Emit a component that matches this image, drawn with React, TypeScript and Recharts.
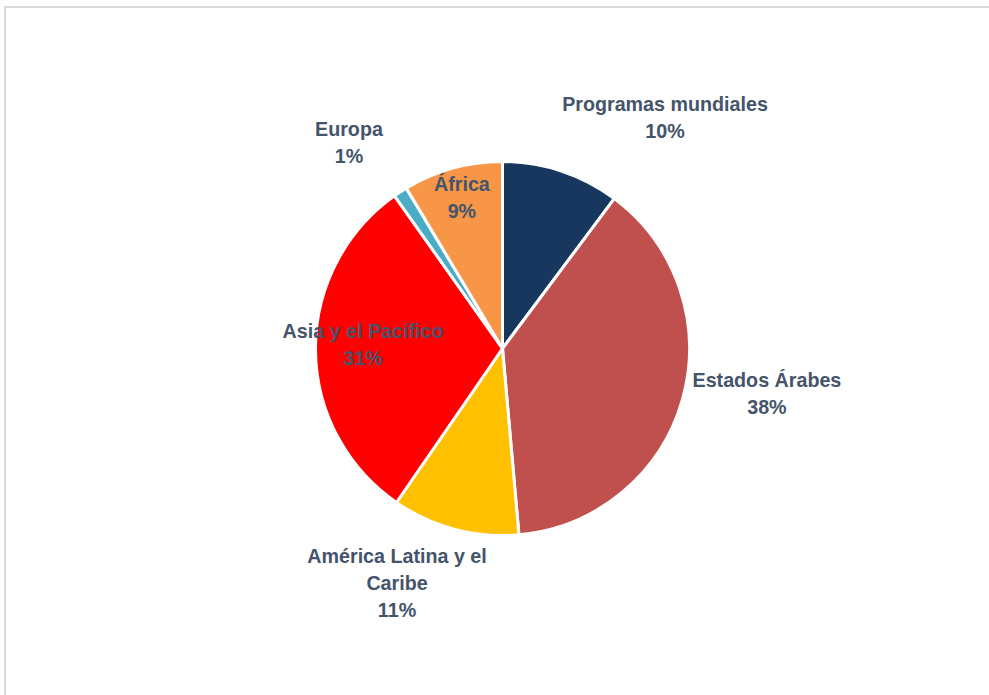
import { PieChart, Pie, Cell } from 'recharts';

// categories, clockwise from 12 o'clock
const regions = [
  'Programas mundiales',
  'Estados Árabes',
  'América Latina y el Caribe',
  'Asia y el Pacífico',
  'Europa',
  'África',
];

// share of total, in % (labels show them rounded)
const shares = [10.2, 38.4, 11.0, 30.6, 1.2, 8.6];

const colors = ['#17375E', '#C0504D', '#FFC000', '#FF0000', '#4BACC6', '#F79646'];

// where each label block sits, relative to the pie centre, in units of the radius
const labelSpots = [
  [0.869, -1.235],
  [1.414, 0.243],
  [-0.564, 1.254],
  [-0.746, -0.021],
  [-0.821, -1.102],
  [-0.217, -0.805],
];

const data = regions.map((name, i) => ({ name, value: shares[i] }));

const TEXT = '#44546A';
const LINE_GAP = 27;

function wrap(text: string, max = 20) {
  const words = text.split(' ');
  const lines: string[] = [];
  let cur = '';
  for (const w of words) {
    const next = cur ? cur + ' ' + w : w;
    if (next.length > max && cur) {
      lines.push(cur);
      cur = w;
    } else {
      cur = next;
    }
  }
  if (cur) lines.push(cur);
  return lines;
}

function renderLabel(props: any) {
  const { cx, cy, outerRadius, index, name, percent } = props;
  const [fx, fy] = labelSpots[index];
  const x = cx + outerRadius * fx;
  const midY = cy + outerRadius * fy;
  const lines = [...wrap(name), `${Math.round(percent * 100)}%`];
  const top = midY - ((lines.length - 1) * LINE_GAP) / 2;
  return (
    <text
      x={x}
      y={top}
      textAnchor="middle"
      dominantBaseline="central"
      fill={TEXT}
      fontSize={19.7}
      fontWeight="bold"
      fontFamily="'Liberation Sans', Arial, sans-serif"
    >
      {lines.map((l, i) => (
        <tspan key={i} x={x} y={top + i * LINE_GAP}>
          {l}
        </tspan>
      ))}
    </text>
  );
}

export default function App() {
  return (
    <div
      style={{
        position: 'absolute',
        left: 0,
        top: 0,
        width: 989,
        height: 695,
        overflow: 'hidden',
        background: '#fff',
      }}
    >
      <div
        style={{
          position: 'absolute',
          left: 4,
          top: 6,
          width: 1100,
          height: 800,
          border: '2px solid #D9D9D9',
        }}
      />
      <div style={{ position: 'absolute', left: 0, top: 0 }}>
        <PieChart width={989} height={695} margin={{ top: 0, right: 0, bottom: 0, left: 0 }}>
          <Pie
            data={data}
            dataKey="value"
            nameKey="name"
            cx={502.5}
            cy={348.5}
            outerRadius={187}
            startAngle={90}
            endAngle={-270}
            stroke="#FFFFFF"
            strokeWidth={3}
            label={renderLabel}
            labelLine={false}
            isAnimationActive={false}
          >
            {data.map((d, i) => (
              <Cell key={d.name} fill={colors[i]} />
            ))}
          </Pie>
        </PieChart>
      </div>
    </div>
  );
}
